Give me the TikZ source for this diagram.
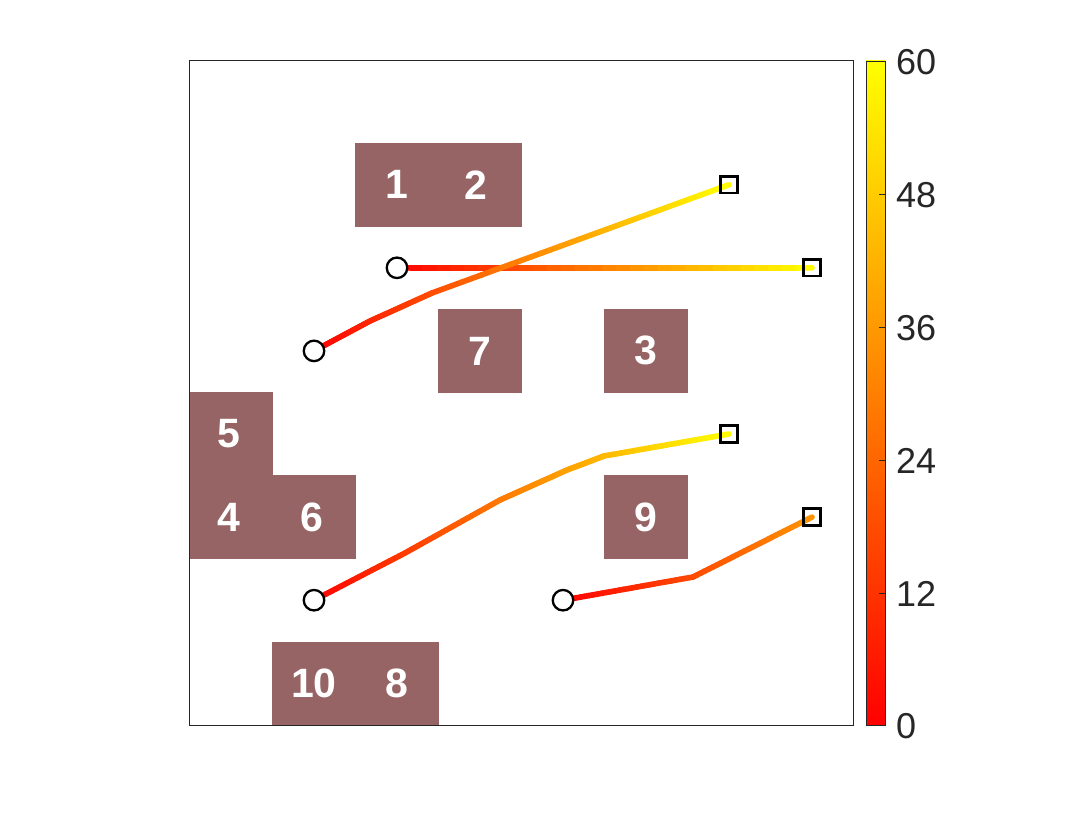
\documentclass[tikz,border=0pt]{standalone}
\usepackage{fontspec}
\setmainfont{Liberation Sans}
\usetikzlibrary{calc}
\definecolor{obscol}{RGB}{150,100,100}
\definecolor{axcol}{RGB}{38,38,38}
\definecolor{cred}{rgb}{1,0,0}
\definecolor{cyel}{rgb}{1,1,0}
\newcommand{\gseg}[4]{%
  \foreach \i in {1,...,30}{%
    \pgfmathsetmacro{\fa}{(\i-1)/30}%
    \pgfmathsetmacro{\fb}{\i/30}%
    \pgfmathsetmacro{\tc}{(#2+(#4-#2)*(\i-0.5)/30)}%
    \definecolor{segcol}{rgb}{1,\tc,0}%
    \draw[traj, draw=segcol] ($(#1)!\fa!(#3)$) -- ($(#1)!\fb!(#3)$);
  }%
}
\begin{document}
\begin{tikzpicture}[x=1pt,y=-1pt,
  obs/.style={fill=obscol, draw=none, minimum width=83.6pt, minimum height=83.6pt, inner sep=0pt, text=white, font=\fontsize{41}{44}\selectfont\bfseries},
  traj/.style={line width=5.6pt, line cap=round},
  startmk/.style={circle, draw=black, fill=white, line width=2.3pt, minimum size=20.5pt, inner sep=0pt},
  endmk/.style={rectangle, draw=black, line width=2.8pt, minimum size=16.5pt, inner sep=0pt},
  ticklab/.style={anchor=west, text=axcol, font=\fontsize{36}{40}\selectfont, inner sep=0pt},
]
\fill[white] (0,0) rectangle (1066,816);
\useasboundingbox (0,0) rectangle (1066,816);

% obstacles
\node[obs] (o1) at (397,184.7) {1};
\node[obs] (o2) at (480,184.7) {\hspace*{-8pt}2};
\node[obs] (o7) at (480,350.9) {7};
\node[obs] (o3) at (646,350.9) {3};
\node[obs] (o5) at (231,434) {\hspace*{-4pt}5};
\node[obs] (o4) at (231,517.1) {\hspace*{-4pt}4};
\node[obs] (o6) at (314,517.1) {\hspace*{-4pt}6};
\node[obs] (o9) at (646,517.1) {9};
\node[obs] (o10) at (314,683.3) {10};
\node[obs] (o8) at (397,683.3) {8};

% axes box
\draw[axcol, line width=0.9pt] (189.5,60) rectangle (853.5,725);

% waypoints
\coordinate (a0) at (397,267.8);
\coordinate (a1) at (812,267.8);
\coordinate (b0) at (314,350.9);
\coordinate (b1) at (370,321);
\coordinate (b2) at (432,293);
\coordinate (b3) at (729,184.7);
\coordinate (c0) at (314,600.2);
\coordinate (c1) at (405,553);
\coordinate (c2) at (500,500);
\coordinate (c3) at (567,470);
\coordinate (c4) at (604,456);
\coordinate (c5) at (729,434);
\coordinate (d0) at (563,600.2);
\coordinate (d1) at (693,577);
\coordinate (d2) at (812,517.1);

% trajectories
\gseg{a0}{0}{a1}{1}
\gseg{b0}{0}{b1}{0.1419}
\gseg{b1}{0.1419}{b2}{0.2938}
\gseg{b2}{0.2938}{b3}{1}
\gseg{c0}{0}{c1}{0.2272}
\gseg{c1}{0.2272}{c2}{0.4683}
\gseg{c2}{0.4683}{c3}{0.6310}
\gseg{c3}{0.6310}{c4}{0.7188}
\gseg{c4}{0.7188}{c5}{1}
\gseg{d0}{0}{d1}{0.2888}
\gseg{d1}{0.2888}{d2}{0.58}

% markers
\node[startmk] (sa) at (a0) {};
\node[startmk] (sb) at (b0) {};
\node[startmk] (sc) at (c0) {};
\node[startmk] (sd) at (d0) {};
\node[endmk] (ea) at (a1) {};
\node[endmk] (eb) at (b3) {};
\node[endmk] (ec) at (c5) {};
\node[endmk] (ed) at (d2) {};

% colorbar
\shade[bottom color=cred, top color=cyel] (866,61) rectangle (885,725);
\draw[axcol, line width=0.9pt] (866,61) rectangle (885,725);
\foreach \yy in {194,327,460,593} {
  \draw[axcol, line width=0.9pt] (879,\yy) -- (885,\yy);
}
\node[ticklab] (t60) at (896,62) {60};
\node[ticklab] (t48) at (896,195) {48};
\node[ticklab] (t36) at (896,328) {36};
\node[ticklab] (t24) at (896,461) {24};
\node[ticklab] (t12) at (896,594) {12};
\node[ticklab] (t0) at (896,726) {0};
\end{tikzpicture}
\end{document}
